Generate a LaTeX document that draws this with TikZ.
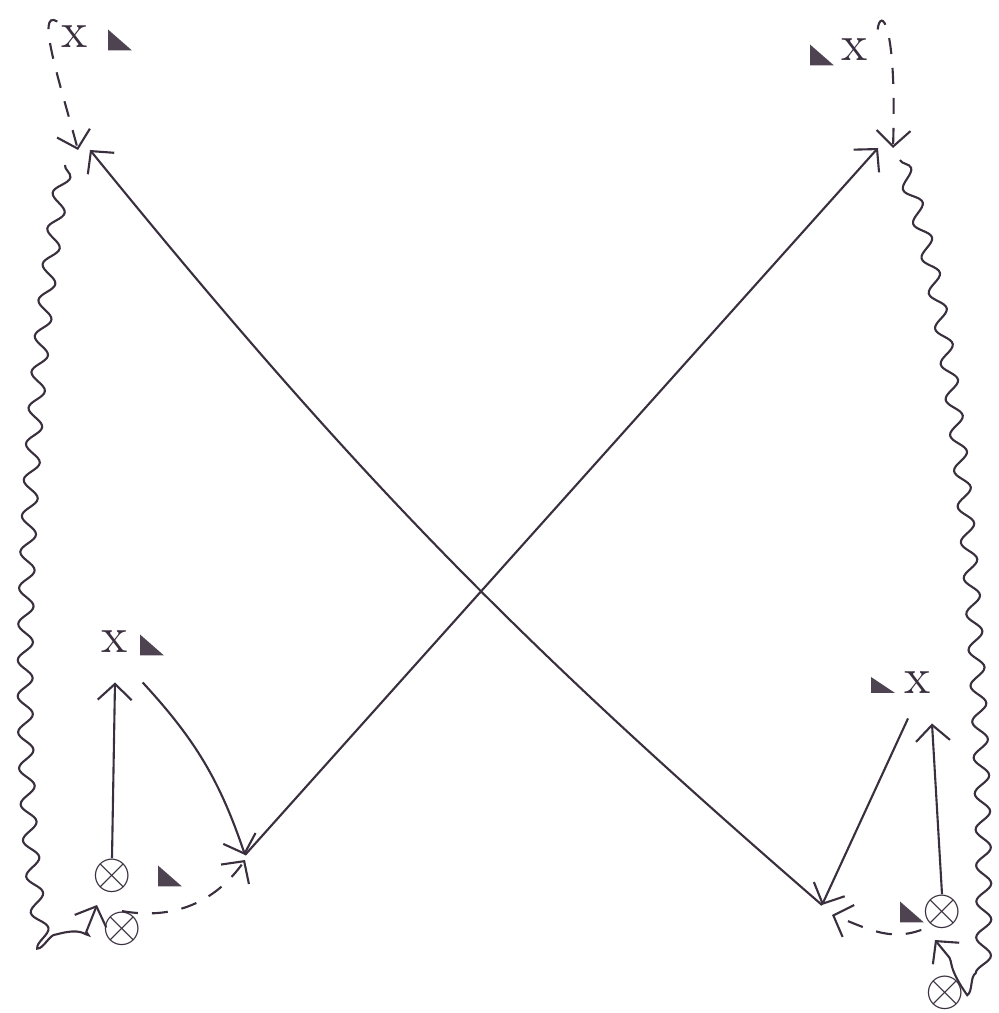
\documentclass[tikz,border=0pt]{standalone}
\usepackage{amsmath,amssymb}
\usepackage{tikz}
\usetikzlibrary{arrows.meta,decorations.pathmorphing,calc}
\usepackage{xcolor}
\definecolor{ink}{HTML}{3A2F3E}

\begin{document}
\begin{tikzpicture}[line width=0.6pt, color=ink,
  >={Straight Barb[length=1.6mm,width=3.4mm]},
  lbl/.style={inner sep=1pt, font=\Large},
  tens/.style={inner sep=0pt, font=\Large},
  tri/.style={minimum width=2.4mm, minimum height=2.1mm, inner sep=0pt,
    path picture={\fill[ink!90] (path picture bounding box.north west) -- (path picture bounding box.south west) -- (path picture bounding box.south east) -- cycle;}},
  dashline/.style={dashed, dash pattern=on 1.6mm off 1.4mm},
  wavy/.style={decorate, decoration={snake, amplitude=0.75mm, segment length=3.6mm, post length=2mm}}]
  \useasboundingbox (0,0) rectangle (9.98,10.13);
  \node[lbl] (x1) at (0.75,9.76) {x};
  \node[tri] (t1) at (1.20,9.73) {};
  \node[tri] (t2) at (8.22,9.58) {};
  \node[lbl] (x2) at (8.55,9.63) {x};
  \node[lbl] (x3) at (1.15,3.71) {x};
  \node[tri] (t3) at (1.52,3.68) {};
  \node[tri, minimum height=1.6mm] (t4) at (8.83,3.28) {};
  \node[lbl] (x4) at (9.18,3.30) {x};
  \node[tens] (o1) at (1.12,1.37) {$\otimes$};
  \node[tri] (t5) at (1.70,1.37) {};
  \node[tens] (o2) at (1.22,0.84) {$\otimes$};
  \node[tri] (t6) at (9.12,1.01) {};
  \node[tens] (o3) at (9.42,1.01) {$\otimes$};
  \node[tens] (o4) at (9.45,0.20) {$\otimes$};
  \coordinate (A) at (0.78,8.63);
  \coordinate (B) at (8.93,8.65);
  \coordinate (C) at (2.45,1.58);
  \coordinate (D) at (8.22,1.08);
  \coordinate (L) at (0.97,1.08);
  \coordinate (R) at (9.35,0.73);
  \draw[dashline,->] (x1.north west) .. controls (0.35,10.05) and (0.6,9.3) .. (A);
  \draw[dashline,->] ([shift={(0.5mm,0.5mm)}]x2.north east) .. controls (8.8,10.05) and (8.97,9.95) .. (B);
  \draw[->] (D) to[bend left=5] ([xshift=1.2mm]A);
  \draw[->] (C) -- ([xshift=-1.5mm]B);
  \draw[->] (o1.north) -- ([yshift=-2.5mm]x3.south);
  \draw[->] ([xshift=1mm,yshift=-2.5mm]x3.south east) to[bend left=12] (C);
  \draw[->] (o3.north) -- ([xshift=1.4mm,yshift=-2.5mm]x4.south);
  \draw[->] ([xshift=-1mm,yshift=-2mm]x4.south) -- (D);
  \draw[dashline,->] (o2.north) to[out=-10,in=-125] ([yshift=-0.5mm]C);
  \draw[dashline,->] (o3.south west) to[out=200,in=-20] ([shift={(1mm,-1mm)}]D);
  \draw[wavy,->] ([shift={(-1.3mm,-1.5mm)}]A) .. controls (0.3,6.5) and (0.1,2.5) .. (0.45,0.8) -- (0.85,0.78) -- (L);
  \draw[wavy,->] ([shift={(0.7mm,-1.2mm)}]B) .. controls (9.6,7.0) and (9.85,3.0) .. (9.8,0.5) -- (9.62,0.4) -- (R);
\end{tikzpicture}
\end{document}
